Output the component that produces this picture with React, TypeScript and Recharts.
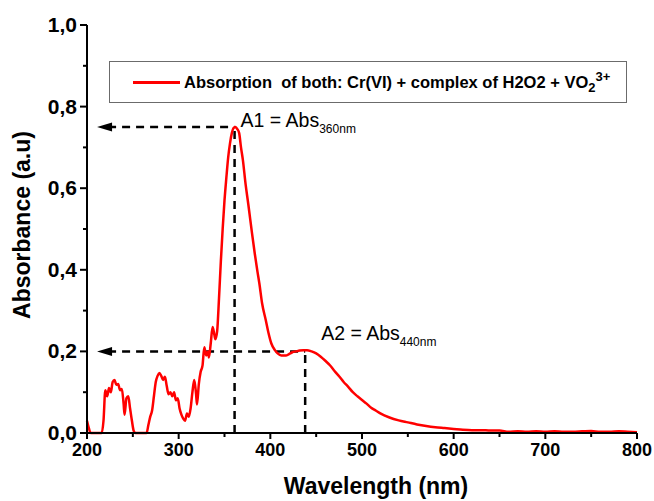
import {
  Legend,
  Line,
  LineChart,
  ReferenceDot,
  ReferenceLine,
  XAxis,
  YAxis,
} from "recharts";

// spectrum
const wavelength = [
  200, 202, 204, 210, 216, 218, 220, 222, 224, 226, 228, 230, 232, 234, 236, 238, 240, 241, 243, 245,
  247, 249, 251, 253, 256, 260, 265, 267, 269, 271, 273, 275, 277, 279, 281, 283, 285, 287, 289, 291,
  293, 295, 297, 299, 301, 303, 305, 307, 309, 311, 313, 315, 317, 319, 320, 322, 324, 326, 328, 330,
  332, 333, 335, 337, 339, 340, 342, 344, 346, 348, 350, 352, 354, 356, 358, 360, 362, 364, 366, 368,
  370, 373, 376, 378, 380, 383, 386, 388, 391, 395, 398, 401, 405, 408, 412, 417, 420, 424, 428, 432,
  436, 440, 445, 450, 455, 460, 465, 470, 475, 480, 485, 490, 495, 500, 505, 510, 515, 520, 530, 540,
  550, 560, 570, 580, 590, 600, 610, 620, 630, 640, 650, 660, 670, 680, 690, 700, 710, 720, 730, 740,
  750, 760, 770, 780, 790, 800,
];
const absorbance = [
  0.03, 0.012, 0, 0, 0, 0.03, 0.105, 0.09, 0.11, 0.1, 0.125, 0.13, 0.118, 0.12, 0.105, 0.108, 0.07, 0.045, 0.085, 0.09,
  0.06, 0.03, 0.005, 0, 0, 0, 0, 0.02, 0.04, 0.055, 0.09, 0.125, 0.14, 0.147, 0.14, 0.13, 0.138, 0.115, 0.095, 0.1,
  0.09, 0.1, 0.08, 0.085, 0.06, 0.045, 0.035, 0.03, 0.048, 0.04, 0.06, 0.1, 0.13, 0.095, 0.07, 0.12, 0.15, 0.165, 0.21, 0.19,
  0.2, 0.185, 0.22, 0.26, 0.24, 0.23, 0.25, 0.33, 0.42, 0.5, 0.57, 0.625, 0.675, 0.71, 0.735, 0.748, 0.75, 0.745, 0.735, 0.7,
  0.67, 0.61, 0.56, 0.525, 0.49, 0.44, 0.395, 0.367, 0.318, 0.277, 0.245, 0.22, 0.203, 0.195, 0.19, 0.19, 0.193, 0.198, 0.2, 0.202,
  0.203, 0.203, 0.2, 0.195, 0.187, 0.177, 0.166, 0.152, 0.139, 0.125, 0.113, 0.1, 0.09, 0.081, 0.072, 0.062, 0.055, 0.048, 0.038, 0.031,
  0.026, 0.021, 0.017, 0.014, 0.012, 0.01, 0.008, 0.007, 0.007, 0.006, 0.006, 0.003, 0.004, 0.003, 0.004, 0.003, 0.004, 0.003, 0.003, 0.004,
  0.005, 0.003, 0.003, 0.004, 0.003, 0.002,
];

const xTicks = [200, 250, 300, 350, 400, 450, 500, 550, 600, 650, 700, 750, 800];
const yTicks = [0, 0.1, 0.2, 0.3, 0.4, 0.5, 0.6, 0.7, 0.8, 0.9, 1.0];

// the two read-out points: [wavelength, absorbance, label, subscript]
const markers: [number, number, string, string][] = [
  [361, 0.75, "A1 = Abs", "360nm"],
  [438, 0.2, "A2 = Abs", "440nm"],
];
const arrowTip = 211;

const data = wavelength.map((w, i) => ({ w, a: absorbance[i] }));

const FONT = "'Liberation Sans', Arial, sans-serif";
const isMajorX = (v: number) => v % 100 === 0;
const isMajorY = (v: number) => Math.round(v * 10) % 2 === 0;

function BottomTick({ x, y, payload }: any) {
  const major = isMajorX(payload.value);
  return (
    <g>
      <line x1={x} x2={x} y1={y} y2={y + (major ? 6 : 4)} stroke="#000" strokeWidth={2} />
      {major && (
        <text x={x} y={y + 23} textAnchor="middle" fontFamily={FONT} fontWeight="bold" fontSize={18} fill="#000">
          {payload.value}
        </text>
      )}
    </g>
  );
}

function TopTick({ x, y, payload }: any) {
  const major = isMajorX(payload.value);
  return <line x1={x} x2={x} y1={y} y2={y + (major ? 7 : 4)} stroke="#000" strokeWidth={2} />;
}

function LeftTick({ x, y, payload }: any) {
  const major = isMajorY(payload.value);
  return (
    <g>
      <line x1={x} x2={x - (major ? 7 : 4)} y1={y} y2={y} stroke="#000" strokeWidth={2} />
      {major && (
        <text x={x - 10} y={y} dy={7} textAnchor="end" fontFamily={FONT} fontWeight="bold" fontSize={21} fill="#000">
          {payload.value.toFixed(1).replace(".", ",")}
        </text>
      )}
    </g>
  );
}

function RightTick({ x, y, payload }: any) {
  const major = isMajorY(payload.value);
  return <line x1={x} x2={x - (major ? 7 : 4)} y1={y} y2={y} stroke="#000" strokeWidth={2} />;
}

function XTitle({ viewBox }: any) {
  return (
    <text x={viewBox.x + viewBox.width / 2 + 14} y={viewBox.y + 61} textAnchor="middle" fontFamily={FONT} fontWeight="bold" fontSize={23} fill="#000">
      Wavelength (nm)
    </text>
  );
}

function YTitle({ viewBox }: any) {
  const cx = viewBox.x + 30;
  const cy = viewBox.y + viewBox.height / 2 - 4;
  return (
    <text x={cx} y={cy} transform={`rotate(-90 ${cx} ${cy})`} textAnchor="middle" fontFamily={FONT} fontWeight="bold" fontSize={23} fill="#000">
      Absorbance (a.u)
    </text>
  );
}

function LegendBox() {
  return (
    <div style={{
      border: "1.5px solid #6b6b6b", height: 42, boxSizing: "border-box", display: "flex", alignItems: "center",
      fontFamily: FONT, fontWeight: "bold", fontSize: 16.5, color: "#000", whiteSpace: "pre", background: "#fff",
    }}>
      <div style={{ width: 47, height: 3, background: "#ff0000", marginLeft: 23, marginRight: 4 }} />
      <span>
        Absorption  of both: Cr(VI) + complex of H2O2 + VO
        <sub style={{ fontSize: 13 }}>2</sub>
        <sup style={{ fontSize: 13 }}>3+</sup>
      </span>
    </div>
  );
}

const Arrow = ({ cx, cy }: any) => (
  <polygon points={`${cx},${cy} ${cx + 15},${cy - 4.5} ${cx + 15},${cy + 4.5}`} fill="#000" />
);

export default function App() {
  return (
    <div style={{ position: "absolute", left: 0, top: 0 }}>
      <LineChart width={654} height={501} data={data} margin={{ top: 25, right: 17, bottom: 0, left: 0 }}>
        <XAxis
          dataKey="w" type="number" domain={[200, 800]} ticks={xTicks} interval={0}
          height={68} tickSize={0} tickMargin={0} tickLine={false} tick={<BottomTick />}
          axisLine={{ stroke: "#000", strokeWidth: 2 }} label={<XTitle />}
        />
        <XAxis
          xAxisId="top" orientation="top" dataKey="w" type="number" domain={[200, 800]} ticks={xTicks} interval={0}
          height={0} tickSize={0} tickMargin={0} tickLine={false} tick={<TopTick />}
          axisLine={{ stroke: "#000", strokeWidth: 2 }}
        />
        <YAxis
          type="number" domain={[0, 1]} ticks={yTicks} interval={0} width={87}
          tickSize={0} tickMargin={0} tickLine={false} tick={<LeftTick />}
          axisLine={{ stroke: "#000", strokeWidth: 2 }} label={<YTitle />}
        />
        <YAxis
          yAxisId="right" orientation="right" type="number" domain={[0, 1]} ticks={yTicks} interval={0} width={0}
          tickSize={0} tickMargin={0} tickLine={false} tick={<RightTick />}
          axisLine={{ stroke: "#000", strokeWidth: 2 }}
        />
        <Legend
          layout="vertical" align="center" verticalAlign="middle"
          wrapperStyle={{ left: 109, top: 61, width: 518 }}
          content={<LegendBox />}
        />
        {markers.map(([x, y]) => (
          <ReferenceLine
            key={`v${x}`} segment={[{ x, y: 0 }, { x, y }]}
            stroke="#000" strokeWidth={2.5} strokeDasharray="8 6"
          />
        ))}
        {markers.map(([x, y]) => (
          <ReferenceLine
            key={`h${x}`} segment={[{ x: arrowTip + 12, y }, { x, y }]}
            stroke="#000" strokeWidth={2.5} strokeDasharray="8 6"
          />
        ))}
        {markers.map(([x, y]) => (
          <ReferenceDot key={`a${x}`} x={arrowTip} y={y} r={0} shape={<Arrow />} />
        ))}
        <Line
          dataKey="a" type="monotone" stroke="#ff0000" strokeWidth={2.5} dot={false}
          isAnimationActive={false} legendType="line"
        />
        {markers.map(([x, y, text, sub], i) => (
          <ReferenceDot
            key={`t${x}`} x={x} y={y} r={0}
            shape={(p: any) => (
              <text x={p.cx + (i === 0 ? 6 : 16)} y={p.cy + (i === 0 ? 0 : -11)} fontFamily={FONT} fontSize={19.5} fill="#000">
                {text}
                <tspan fontSize={12} dy={6}>{sub}</tspan>
              </text>
            )}
          />
        ))}
      </LineChart>
    </div>
  );
}
